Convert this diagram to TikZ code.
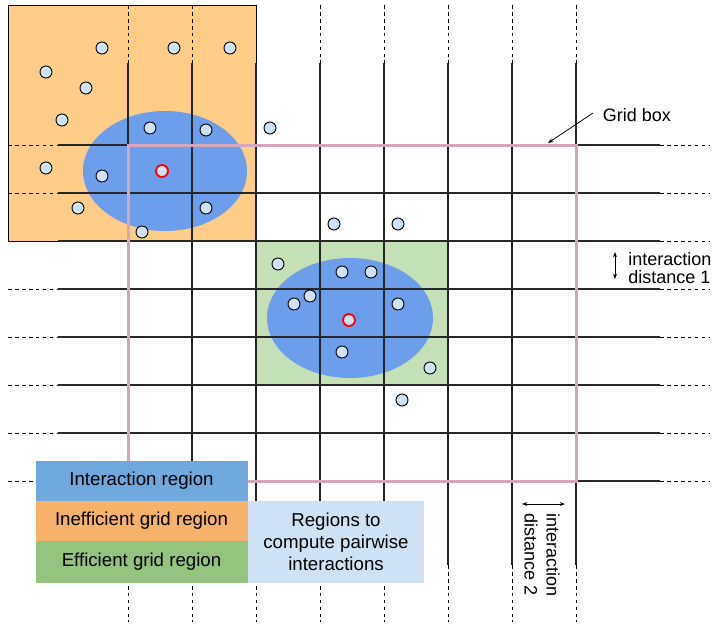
\documentclass[tikz,border=0pt]{standalone}
\usepackage{fontspec}
\setmainfont{Liberation Sans}
\usetikzlibrary{arrows.meta}
\definecolor{orangebg}{RGB}{255,205,136}
\definecolor{greenbg}{RGB}{198,224,182}
\definecolor{ellblue}{RGB}{109,158,235}
\definecolor{partfill}{RGB}{207,226,243}
\definecolor{gridpink}{RGB}{213,166,189}
\definecolor{legblue}{RGB}{111,168,220}
\definecolor{legorange}{RGB}{246,178,107}
\definecolor{leggreen}{RGB}{147,196,125}
\definecolor{leglight}{RGB}{207,226,243}
\tikzset{
  gridsolid/.style={line width=1.4pt, black!85},
  griddash/.style={line width=0.6pt, black, dash pattern=on 2.8pt off 2.4pt},
  particle/.style={circle, minimum size=9pt, inner sep=0pt, fill=partfill, draw=black, line width=0.7pt},
  centre/.style={particle, draw=red, line width=1.4pt},
  legbox/.style={rectangle, inner sep=0pt, font=\fontsize{14}{16.3}\selectfont, text=black, align=center},
  lbl/.style={inner sep=0pt, font=\fontsize{13.5}{14}\selectfont, text=black},
  arr/.style={line width=0.6pt, -{Stealth[length=4pt,width=3pt]}},
  darr/.style={line width=0.6pt, {Stealth[length=4pt,width=3pt]}-{Stealth[length=4pt,width=3pt]}}
}
\begin{document}
\begin{tikzpicture}[x=0.75pt,y=-0.75pt]
\useasboundingbox (0,0) rectangle (721,637);
% background regions
\fill[orangebg] (8,5) rectangle (256,241);
\fill[greenbg] (256,241) rectangle (448,385);
\fill[ellblue] (165,171) ellipse [x radius=82, y radius=60];
\fill[ellblue] (350,318) ellipse [x radius=83, y radius=60];
\draw[line width=0.75pt] (8,5) rectangle (256,241);
% grid lines
\foreach \x in {128,192,...,576} {
  \draw[griddash] (\x,5) -- (\x,63);
  \draw[griddash] (\x,565) -- (\x,622);
  \draw[gridsolid] (\x,63) -- (\x,565);
}
\foreach \y in {145,193,...,481} {
  \draw[griddash] (8,\y) -- (58,\y);
  \draw[griddash] (660,\y) -- (710,\y);
  \draw[gridsolid] (58,\y) -- (660,\y);
}
% grid box
\draw[gridpink, line width=2.25pt] (128,145) rectangle (576,481);
% particles
\foreach \px/\py [count=\i] in {102/48,174/48,230/48,46/72,86/88,62/120,150/128,206/130,270/128,46/168,102/176,78/208,206/208,142/232,
  334/224,398/224,278/264,342/272,371/272,310/296,294/304,398/304,342/352,430/368,402/400}
  \node[particle] (p\i) at (\px,\py) {};
\node[centre] (c1) at (162,171) {};
\node[centre] (c2) at (349,320) {};
% legend
\node[legbox, fill=legblue, minimum width=159pt, minimum height=30pt] (leg1) at (141.5,481) {Interaction region};
\node[legbox, fill=legorange, minimum width=159pt, minimum height=30pt] (leg2) at (141.5,521) {Inefficient grid region};
\node[legbox, fill=leggreen, minimum width=159pt, minimum height=31pt] (leg3) at (141.5,562) {Efficient grid region};
\node[legbox, fill=leglight, minimum width=132pt, minimum height=61.5pt] (leg4) at (336,542) {Regions to\\compute pairwise\\interactions};
% labels
\node[lbl] (gridlbl) at (637,115) {Grid box};
\coordinate (gbtail) at (593,113);
\coordinate (gbcorner) at (548,143);
\draw[arr] (gbtail) -- (gbcorner);
\node[lbl, anchor=west, align=left] (dist1) at (628,268) {interaction\\distance 1};
\coordinate (d1a) at (615,252);
\coordinate (d1b) at (615,279);
\draw[darr] (d1a) -- (d1b);
\node[lbl, rotate=-90, align=left, font=\fontsize{13.5}{16.5}\selectfont] (dist2) at (542,555) {interaction\\distance 2};
\coordinate (d2a) at (522,504);
\coordinate (d2b) at (565,504);
\draw[darr] (d2a) -- (d2b);
\end{tikzpicture}
\end{document}
